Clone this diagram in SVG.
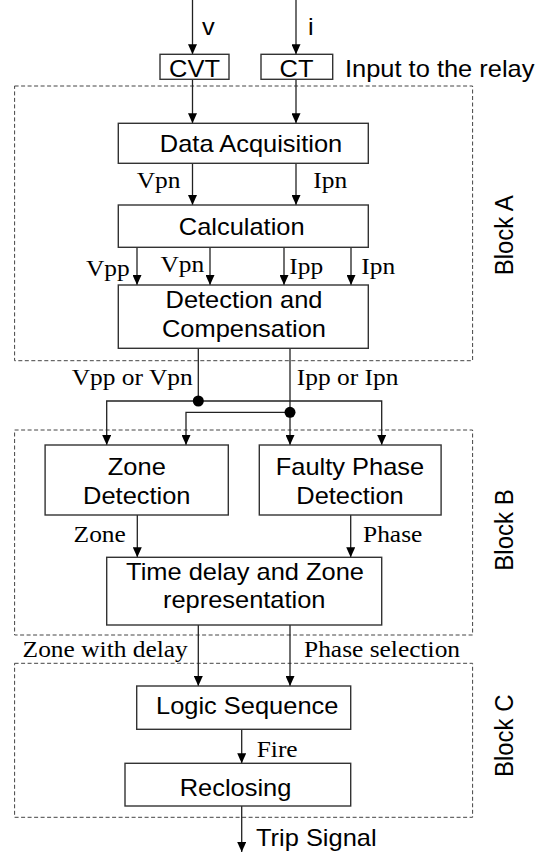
<svg xmlns="http://www.w3.org/2000/svg" width="546" height="852" viewBox="0 0 546 852">
<style>
.bg{fill:#fff}
.box{fill:#fff;stroke:#333;stroke-width:1.4}
.dash{fill:none;stroke:#444;stroke-width:1;stroke-dasharray:4 2.5}
.ln{fill:none;stroke:#222;stroke-width:1.3}
.arr{marker-end:url(#ah)}
.s{font-family:"Liberation Sans",Arial,sans-serif;font-size:24px;fill:#000}
.m{text-anchor:middle}
.r{font-family:"Liberation Serif","Times New Roman",serif;font-size:24px;fill:#000}
.dot{fill:#000}
</style>
<defs>
<marker id="ah" markerUnits="userSpaceOnUse" markerWidth="10" markerHeight="9" viewBox="0 0 10 9" refX="10" refY="4.5" orient="auto">
<path d="M0,0 L10,4.5 L0,9 z" fill="#000"/>
</marker>
</defs>
<rect class="bg" x="0" y="0" width="546" height="852"/>

<g id="blockA">
<rect class="dash" x="14.6" y="86" width="458" height="274.7"/>
<text class="s m" transform="translate(512.7,235.3) scale(1.06,1) rotate(-90)">Block A</text>
</g>
<g id="blockB">
<rect class="dash" x="14.6" y="430" width="458" height="205"/>
<text class="s m" transform="translate(512.7,530) scale(1.06,1) rotate(-90)">Block B</text>
</g>
<g id="blockC">
<rect class="dash" x="14.6" y="663.3" width="458" height="154"/>
<text class="s m" transform="translate(512.7,735.8) scale(1.06,1) rotate(-90)">Block C</text>
</g>

<g id="connectors">
<path class="ln arr" d="M192.5,0 V54.3"/>
<path class="ln arr" d="M296,0 V54.3"/>
<path class="ln arr" d="M192.5,79.3 V123.3"/>
<path class="ln arr" d="M296,79.3 V123.3"/>
<path class="ln arr" d="M192.5,163.3 V205"/>
<path class="ln arr" d="M296,163.3 V205"/>
<path class="ln arr" d="M137,247.3 V285"/>
<path class="ln arr" d="M210,247.3 V285"/>
<path class="ln arr" d="M284,247.3 V285"/>
<path class="ln arr" d="M351,247.3 V285"/>
<path class="ln" d="M198.3,348.3 V401"/>
<path class="ln arr" d="M290,348.3 V445"/>
<path class="ln arr" d="M198.3,401 H106.7 V445"/>
<path class="ln arr" d="M198.3,401 H381.7 V445"/>
<path class="ln arr" d="M290,412.3 H186 V445"/>
<circle class="dot" cx="198.3" cy="401" r="5.5"/>
<circle class="dot" cx="290" cy="412.3" r="5.5"/>
<path class="ln arr" d="M137.3,515 V557.3"/>
<path class="ln arr" d="M350.7,515 V557.3"/>
<path class="ln arr" d="M198.3,625 V686"/>
<path class="ln arr" d="M290,625 V686"/>
<path class="ln arr" d="M241.7,729.3 V763.3"/>
<path class="ln arr" d="M241.7,806 V852"/>
</g>

<g id="labels">
<text class="s" transform="translate(202,35) scale(1.06,1)">v</text>
<text class="s" transform="translate(308,35) scale(1.06,1)">i</text>
<text class="s" transform="translate(345,77.3) scale(1.06,1)">Input to the relay</text>
<text class="r" transform="translate(136.7,188.3) scale(1.06,1)">Vpn</text>
<text class="r" transform="translate(313.3,188.3) scale(1.06,1)">Ipn</text>
<text class="r" transform="translate(86,276) scale(1.06,1)">Vpp</text>
<text class="r" transform="translate(160.4,272) scale(1.06,1)">Vpn</text>
<text class="r" transform="translate(289.3,274) scale(1.06,1)">Ipp</text>
<text class="r" transform="translate(361.2,274) scale(1.06,1)">Ipn</text>
<text class="r" transform="translate(71.7,385) scale(1.06,1)">Vpp or Vpn</text>
<text class="r" transform="translate(296.7,385) scale(1.06,1)">Ipp or Ipn</text>
<text class="r" transform="translate(73.6,541.7) scale(1.06,1)">Zone</text>
<text class="r" transform="translate(363,541.7) scale(1.06,1)">Phase</text>
<text class="r" transform="translate(22.6,657.3) scale(1.06,1)">Zone with delay</text>
<text class="r" transform="translate(304,657.3) scale(1.06,1)">Phase selection</text>
<text class="r" transform="translate(256.7,757.3) scale(1.06,1)">Fire</text>
<text class="s" transform="translate(256,846) scale(1.06,1)">Trip Signal</text>
</g>

<g id="cvt">
<rect class="box" x="160" y="54.3" width="69" height="25"/>
<text class="s m" transform="translate(194.5,76.7) scale(1.06,1)">CVT</text>
</g>
<g id="ct">
<rect class="box" x="261" y="54.3" width="71.7" height="25"/>
<text class="s m" transform="translate(296.5,76.7) scale(1.06,1)">CT</text>
</g>
<g id="data-acquisition">
<rect class="box" x="118.3" y="123.3" width="250" height="40"/>
<text class="s m" transform="translate(251,151.7) scale(1.06,1)">Data Acquisition</text>
</g>
<g id="calculation">
<rect class="box" x="118.3" y="205" width="250" height="42.3"/>
<text class="s m" transform="translate(241.7,235) scale(1.06,1)">Calculation</text>
</g>
<g id="detection-compensation">
<rect class="box" x="118.3" y="285" width="250" height="63.3"/>
<text class="s m" transform="translate(244,308.3) scale(1.06,1)">Detection and</text>
<text class="s m" transform="translate(244,336.7) scale(1.06,1)">Compensation</text>
</g>
<g id="zone-detection">
<rect class="box" x="45.1" y="445" width="183.2" height="70"/>
<text class="s m" transform="translate(136.8,475) scale(1.06,1)">Zone</text>
<text class="s m" transform="translate(136.8,504.3) scale(1.06,1)">Detection</text>
</g>
<g id="faulty-phase-detection">
<rect class="box" x="259.3" y="445" width="181.8" height="70"/>
<text class="s m" transform="translate(350,475) scale(1.06,1)">Faulty Phase</text>
<text class="s m" transform="translate(350,504.3) scale(1.06,1)">Detection</text>
</g>
<g id="time-delay">
<rect class="box" x="106.7" y="557.3" width="275" height="67.7"/>
<text class="s m" transform="translate(245,580) scale(1.06,1)">Time delay and Zone</text>
<text class="s m" transform="translate(244.2,608.3) scale(1.06,1)">representation</text>
</g>
<g id="logic-sequence">
<rect class="box" x="136.7" y="686" width="214" height="43.3"/>
<text class="s m" transform="translate(247.2,714) scale(1.06,1)">Logic Sequence</text>
</g>
<g id="reclosing">
<rect class="box" x="125" y="763.3" width="225.7" height="42.7"/>
<text class="s m" transform="translate(235.5,796) scale(1.06,1)">Reclosing</text>
</g>
</svg>
